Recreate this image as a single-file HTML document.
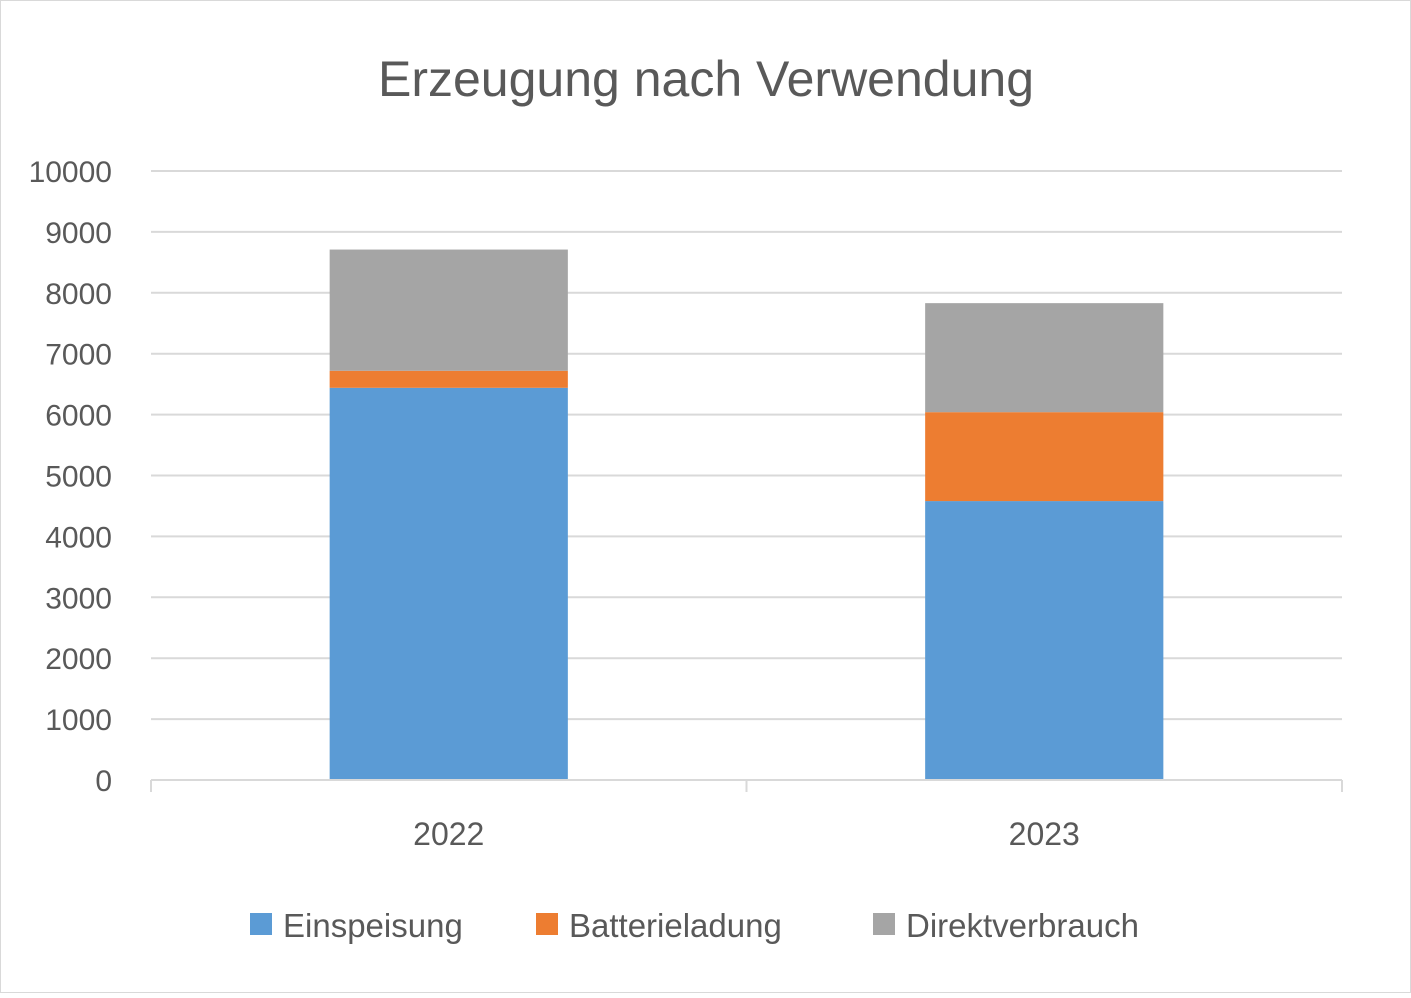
<!DOCTYPE html>
<html><head><meta charset="utf-8"><style>
body{margin:0;background:#fff;}
svg text{font-family:"Liberation Sans",sans-serif;fill:#595959;}
</style></head><body>
<svg width="1411" height="993" xmlns="http://www.w3.org/2000/svg" id="chart">
<rect x="0.5" y="0.5" width="1410" height="992" fill="#fff" stroke="#d9d9d9"/>
<text x="706" y="96" text-anchor="middle" font-size="50">Erzeugung nach Verwendung</text>
<g id="grid"></g><g id="bars"></g><g id="axes"></g>
<g>
<rect x="250" y="913" width="22" height="22" fill="#5b9bd5"/>
<text x="283" y="937" font-size="33">Einspeisung</text>
<rect x="536" y="913" width="22" height="22" fill="#ed7d31"/>
<text x="569" y="937" font-size="33">Batterieladung</text>
<rect x="873" y="913" width="22" height="22" fill="#a5a5a5"/>
<text x="906" y="937" font-size="33">Direktverbrauch</text>
</g>
</svg>
<script>
const categories=["2022","2023"];
const einspeisung=[6440,4580];
const batterieladung=[280,1460];
const direktverbrauch=[1990,1790];
const yTicks=[0,1000,2000,3000,4000,5000,6000,7000,8000,9000,10000];
const NS="http://www.w3.org/2000/svg";
const x0=151,x1=1342,y0=780,y1=171,yMax=10000;
const Y=v=>y0-(v/yMax)*(y0-y1);
const bw=(x1-x0)/categories.length;
const X=i=>x0+bw*(i+0.5);
function mk(t,a,p){const e=document.createElementNS(NS,t);for(const k in a)e.setAttribute(k,a[k]);p.appendChild(e);return e;}
const grid=document.getElementById('grid'),bars=document.getElementById('bars'),axes=document.getElementById('axes');
yTicks.forEach(v=>{
 if(v>0){const l=mk('line',{x1:x0,x2:x1,y1:Y(v),y2:Y(v),stroke:'#d9d9d9','stroke-width':2},grid);
 
 }
 const t=mk('text',{x:112,y:Y(v)+11,'text-anchor':'end','font-size':30},axes);t.textContent=v;
 
 
});
const ax=mk('line',{x1:x0,x2:x1,y1:y0,y2:y0,stroke:'#d9d9d9','stroke-width':2},axes);


for(let i=0;i<=categories.length;i++){const tk=mk('line',{x1:x0+bw*i,x2:x0+bw*i,y1:y0,y2:y0+12,stroke:'#d9d9d9','stroke-width':2},axes);
 
 }
const series=[[einspeisung,'#5b9bd5','einspeisung'],[batterieladung,'#ed7d31','batterieladung'],[direktverbrauch,'#a5a5a5','direktverbrauch']];
categories.forEach((c,i)=>{
 let base=0;const w=bw*0.4;
 series.forEach(([arr,col,n])=>{
  const r=mk('rect',{x:X(i)-w/2,y:Y(base+arr[i]),width:w,height:Y(base)-Y(base+arr[i]),fill:col},bars);
  
  
  base+=arr[i];
 });
 const t=mk('text',{x:X(i),y:845,'text-anchor':'middle','font-size':32},axes);t.textContent=c;
 
 
});
</script>
</body></html>
